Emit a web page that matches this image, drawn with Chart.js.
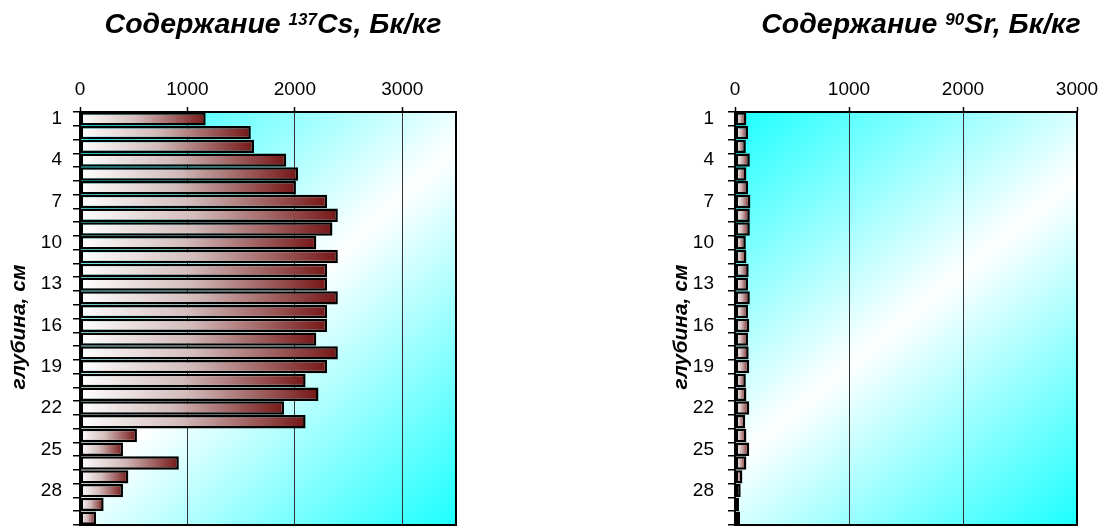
<!DOCTYPE html>
<html>
<head>
<meta charset="utf-8">
<script src="https://cdn.jsdelivr.net/npm/chart.js@4/dist/chart.umd.min.js"></script>
<style>
  html, body { margin: 0; padding: 0; background: #fff; }
  #wrap { position: relative; width: 1108px; height: 526px; }
  #wrap canvas { position: absolute; top: 0; }
</style>
</head>
<body>
<div id="wrap">
  <canvas id="cs" width="554" height="526" style="left:0"></canvas>
  <canvas id="sr" width="554" height="526" style="left:554px"></canvas>
</div>
<script>
// depth layers, cm
const depthLabels = ['1', '2', '3', '4', '5', '6', '7', '8', '9', '10',
  '11', '12', '13', '14', '15', '16', '17', '18', '19', '20',
  '21', '22', '23', '24', '25', '26', '27', '28', '29', '30'];

// 137Cs activity per layer, Bq/kg
const csValues = [1170, 1590, 1620, 1920, 2030, 2010, 2300, 2400, 2350, 2200,
  2400, 2300, 2300, 2400, 2300, 2300, 2200, 2400, 2300, 2100,
  2220, 1900, 2100, 530, 400, 920, 450, 400, 220, 150];

// 90Sr activity per layer, Bq/kg
const srValues = [100, 115, 95, 130, 100, 115, 135, 130, 130, 95,
  100, 120, 115, 130, 115, 125, 115, 120, 125, 95,
  100, 125, 90, 100, 125, 100, 65, 50, 35, 45];

const xTicks = [0, 1000, 2000, 3000];

const FONT = '"Liberation Sans", Arial, sans-serif';

// cyan-white-cyan diagonal fill behind the plot
const areaFill = {
  id: 'areaFill',
  beforeDraw(chart) {
    const { ctx, chartArea: a } = chart;
    const g = ctx.createLinearGradient(a.left, a.top, a.right, a.bottom);
    g.addColorStop(0, '#1cffff');
    g.addColorStop(0.5, '#ffffff');
    g.addColorStop(1, '#1cffff');
    ctx.save();
    ctx.fillStyle = g;
    ctx.fillRect(a.left, a.top, a.right - a.left, a.bottom - a.top);
    ctx.restore();
  }
};

// black frame round the plot
const frame = {
  id: 'frame',
  afterDatasetsDraw(chart) {
    const { ctx, chartArea: a } = chart;
    ctx.save();
    ctx.strokeStyle = '#000';
    ctx.lineWidth = 2;
    ctx.strokeRect(a.left, a.top, a.right - a.left, a.bottom - a.top);
    ctx.restore();
  }
};

// heading with a superscript isotope number + rotated depth title
const texts = {
  id: 'texts',
  afterDraw(chart, args, opts) {
    const ctx = chart.ctx;
    ctx.save();
    ctx.fillStyle = '#000';
    ctx.textBaseline = 'alphabetic';
    const big = 'italic bold 28.5px ' + FONT;
    const small = 'italic bold 17px ' + FONT;
    ctx.font = big;
    const w1 = ctx.measureText(opts.head).width;
    const w3 = ctx.measureText(opts.tail).width;
    ctx.font = small;
    const w2 = ctx.measureText(opts.sup).width;
    let x = opts.cx - (w1 + w2 + w3) / 2;
    ctx.textAlign = 'left';
    ctx.font = big;
    ctx.fillText(opts.head, x, opts.baseline);
    x += w1;
    ctx.font = small;
    ctx.fillText(opts.sup, x, opts.baseline - 8);
    x += w2;
    ctx.font = big;
    ctx.fillText(opts.tail, x, opts.baseline);

    ctx.translate(opts.yx, opts.yy);
    ctx.rotate(-Math.PI / 2);
    ctx.font = 'italic bold 21px ' + FONT;
    ctx.textAlign = 'center';
    ctx.textBaseline = 'middle';
    ctx.fillText('глубина, см', 0, 0);
    ctx.restore();
  }
};

function barFill(c) {
  const chart = c.chart;
  if (!chart.chartArea || c.raw == null) return '#781818';
  const xs = chart.scales.x;
  const x0 = xs.getPixelForValue(0);
  const x1 = xs.getPixelForValue(c.raw);
  const g = chart.ctx.createLinearGradient(x0, 0, x1, 0);
  g.addColorStop(0, '#ffffff');
  g.addColorStop(0.45, '#d2baba');
  g.addColorStop(1, '#761616');
  return g;
}

function noPadding(s) {
  s.paddingTop = 0;
  s.paddingBottom = 0;
  s.paddingLeft = 0;
  s.paddingRight = 0;
}

function makeChart(id, values, xMax, plotLeft, plotRight, labelPad, heading) {
  return new Chart(document.getElementById(id), {
    type: 'bar',
    data: {
      labels: depthLabels,
      datasets: [{
        data: values,
        backgroundColor: barFill,
        borderColor: '#000',
        borderWidth: 2.5,
        borderSkipped: false,
        barPercentage: 0.97,
        categoryPercentage: 1
      }]
    },
    options: {
      indexAxis: 'y',
      responsive: false,
      animation: false,
      events: [],
      layout: { padding: { left: 0, top: 0, right: 554 - plotRight, bottom: 1 } },
      scales: {
        x: {
          position: 'top',
          min: 0,
          max: xMax,
          afterFit(s) { s.height = 112; noPadding(s); },
          afterBuildTicks(s) { s.ticks = xTicks.map(v => ({ value: v })); },
          ticks: {
            color: '#000',
            font: { family: FONT, size: 19 },
            padding: 6,
            maxRotation: 0,
            callback: v => String(v)
          },
          grid: { color: '#333', lineWidth: 1, tickLength: 5, tickColor: '#000', tickWidth: 1.5 },
          border: { display: true, color: '#000', width: 2 }
        },
        y: {
          afterFit(s) { s.width = plotLeft; noPadding(s); },
          ticks: {
            autoSkip: false,
            color: '#000',
            font: { family: FONT, size: 19 },
            padding: labelPad,
            callback(value, index) {
              return index % 3 === 0 ? this.getLabelForValue(value) : '';
            }
          },
          grid: { drawOnChartArea: false, tickLength: 7, color: '#000', lineWidth: 1.5 },
          border: { display: true, color: '#000', width: 2 }
        }
      },
      plugins: {
        legend: { display: false },
        tooltip: { enabled: false },
        texts: heading
      }
    },
    plugins: [areaFill, frame, texts]
  });
}

makeChart('cs', csValues, 3500, 80, 456, 11,
  { head: 'Содержание ', sup: '137', tail: 'Cs, Бк/кг', cx: 273, baseline: 33, yx: 19, yy: 327 });
makeChart('sr', srValues, 3000, 181, 523, 14,
  { head: 'Содержание ', sup: '90', tail: 'Sr, Бк/кг', cx: 367, baseline: 33, yx: 127, yy: 327 });
</script>
</body>
</html>
